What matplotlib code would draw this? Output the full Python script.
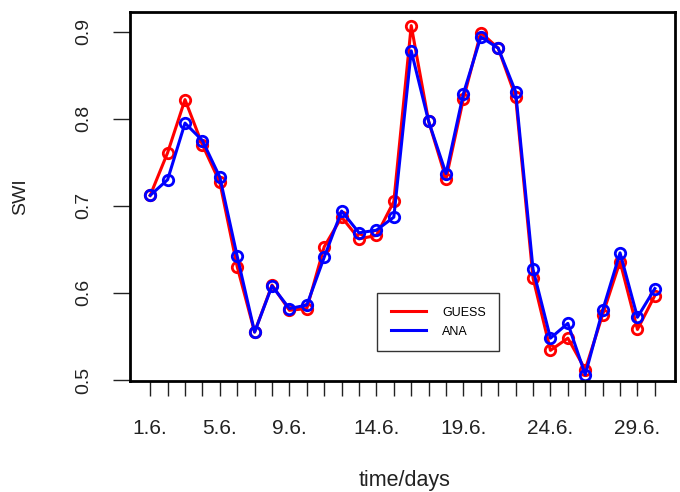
import numpy as np
import matplotlib
matplotlib.use("Agg")
import matplotlib.pyplot as plt

# SWI per day in June (1..30)
days = np.arange(1, 31)
guess = [0.712, 0.761, 0.822, 0.770, 0.727, 0.630, 0.555, 0.609, 0.580, 0.582,
         0.653, 0.687, 0.662, 0.666, 0.705, 0.907, 0.797, 0.731, 0.823, 0.899,
         0.881, 0.825, 0.617, 0.534, 0.548, 0.512, 0.575, 0.636, 0.558, 0.597]
ana = [0.712, 0.730, 0.795, 0.775, 0.733, 0.642, 0.555, 0.608, 0.582, 0.586,
       0.641, 0.694, 0.669, 0.672, 0.687, 0.878, 0.797, 0.737, 0.829, 0.894,
       0.881, 0.831, 0.627, 0.548, 0.565, 0.506, 0.580, 0.646, 0.572, 0.605]
labeled_days = [1, 5, 9, 14, 19, 24, 29]
yticks = [0.5, 0.6, 0.7, 0.8, 0.9]

plt.rcParams['font.family'] = ['Liberation Sans', 'DejaVu Sans']
txt = '#222222'

fig = plt.figure(figsize=(6.8, 4.92), dpi=100)
ax = fig.add_axes([0.1912, 0.2256, 0.8015, 0.75])

ax.plot(days, guess, color='red', lw=2.2, marker='o', ms=7.5, mfc='none', mew=2, label='GUESS')
ax.plot(days, ana, color='blue', lw=2.2, marker='o', ms=7.5, mfc='none', mew=2, label='ANA')

ax.set_xlim(-0.16, 31.16)
ax.set_ylim(0.4988, 0.9226)

ax.set_xticks(days)
ax.set_xticklabels([f"{d}.6." if d in labeled_days else "" for d in days])
ax.set_yticks(yticks)
ax.set_yticklabels([str(v) for v in yticks], rotation=90, va='center')

ax.tick_params(axis='x', length=11, width=1, pad=16, labelsize=15, colors=txt)
ax.tick_params(axis='y', length=12, width=1, pad=15, labelsize=14, colors=txt)
for s in ax.spines.values():
    s.set_linewidth(2)

ax.set_xlabel("time/days", fontsize=15.5, color=txt, va='center')
ax.xaxis.set_label_coords(0.503, -0.27)
ax.set_ylabel("SWI", fontsize=14, color=txt, va='center')
ax.yaxis.set_label_coords(-0.2, 0.5)

leg = ax.legend(loc='upper left', bbox_to_anchor=(0.453, 0.2385),
                handlelength=2.8, handletextpad=1.3, borderpad=1.1, labelspacing=0.55,
                fontsize=9, frameon=True, fancybox=False, borderaxespad=0)
leg.get_frame().set_edgecolor('black')
leg.get_frame().set_linewidth(1)
for h in leg.legend_handles:
    h.set_marker('')

fig.savefig("out.png", dpi=100)
